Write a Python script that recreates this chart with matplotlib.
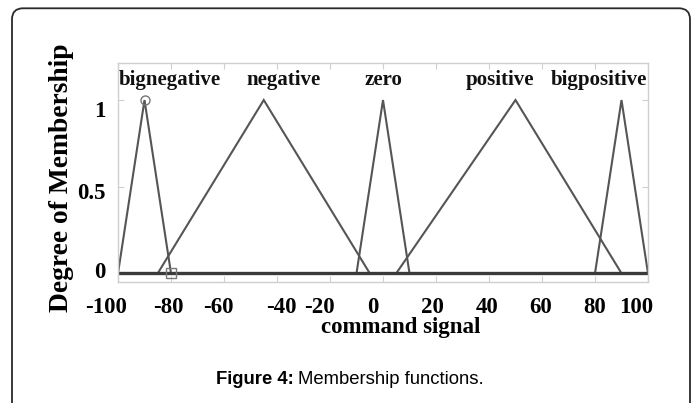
import numpy as np
import matplotlib
matplotlib.use("Agg")
import matplotlib.pyplot as plt
from matplotlib.patches import FancyBboxPatch
from matplotlib.transforms import ScaledTranslation

# ---------------- data ----------------
mf_names = ["bignegative", "negative", "zero", "positive", "bigpositive"]
mf_left = [-100, -85, -10, 5, 80]
mf_peak = [-90, -45, 0, 50, 90]
mf_right = [-80, -5, 10, 90, 100]
label_x = [-80.5, -37.5, 0.2, 44, 81.5]   # where the MF names are written
label_y = 1.115
x_range = [-100, 100]
xticks = [-100, -80, -60, -40, -20, 0, 20, 40, 60, 80, 100]
xtick_labels = ["-100", "-80", "-60", "-40", "-20", "0", "20", "40", "60", "80", "100"]
yticks = [0, 0.5, 1]
ytick_labels = ["0", "0.5", "1"]
circle_pt = (-90, 1)
square_pt = (-80, 0)

# label nudges of the scanned original (pixels, style only)
xtick_nudge_px = [-11.5, -2.5, -5.5, 4, -11, -10, -3.5, -2.3, -1.2, 0, -12]
ytick_nudge_px = [3, -4, -9]

W, H, DPI = 6.97, 4.03, 100
fig = plt.figure(figsize=(W, H), dpi=DPI)
fig.patch.set_facecolor("white")

# outer rounded frame
box = FancyBboxPatch((0.12, -0.3), 6.78, 3.947 + 0.3,
                     boxstyle="round,pad=0,rounding_size=0.11",
                     transform=fig.dpi_scale_trans, fill=False,
                     edgecolor="#2a2a2a", linewidth=1.3)
fig.patches.append(box)

ax = fig.add_axes([118 / 697, 1 - 281.7 / 403, 530 / 697, 218.4 / 403])
ax.set_xlim(x_range)
ax.set_ylim(-0.0485, 1.212)

for a, b, c in zip(mf_left, mf_peak, mf_right):
    xs = [x_range[0], a, b, c, x_range[1]]
    ys = [0, 0, 1, 0, 0]
    ax.plot(xs, ys, color="#555555", lw=1.5, solid_joinstyle="miter")
# darker, thicker overlap of all the zero segments
ax.plot(x_range, [0, 0], color="#3a3a3a", lw=2.4, solid_capstyle="butt")

ax.plot([circle_pt[0]], [circle_pt[1]], marker="o", ms=6.5, mfc="none",
        mec="#777777", mew=1.0)
ax.plot([square_pt[0]], [square_pt[1]], marker="s", ms=6.5, mfc="none",
        mec="#777777", mew=1.0)

serif = "Liberation Serif"
for name, lx in zip(mf_names, label_x):
    ax.text(lx, label_y, name, ha="center", va="center", fontsize=15,
            fontweight="bold", family=serif, color="#111111")

for sp in ax.spines.values():
    sp.set_color("#cfcfcf")
    sp.set_linewidth(1.0)

ax.set_xticks(xticks)
ax.set_xticklabels(xtick_labels)
ax.set_yticks(yticks)
ax.set_yticklabels(ytick_labels)
ax.tick_params(axis="both", direction="in", length=4, color="#cfcfcf",
               top=True, right=True, labelsize=16.5)
ax.tick_params(axis="x", pad=11)
ax.tick_params(axis="y", pad=9)

for lab, dx in zip(ax.get_xticklabels(), xtick_nudge_px):
    lab.set_fontfamily(serif)
    lab.set_fontweight("bold")
    lab.set_transform(lab.get_transform() + ScaledTranslation(dx / DPI, 0, fig.dpi_scale_trans))
for lab, dy in zip(ax.get_yticklabels(), ytick_nudge_px):
    lab.set_fontfamily(serif)
    lab.set_fontweight("bold")
    lab.set_transform(lab.get_transform() + ScaledTranslation(0, dy / DPI, fig.dpi_scale_trans))

ax.set_xlabel("command signal", fontsize=16.5, fontweight="bold", family=serif,
              va="center")
ax.xaxis.set_label_coords((401 - 118) / 530, -(327 - 281.7) / 218.4)
ax.set_ylabel("Degree of Membership", fontsize=19.8, fontweight="bold",
              family=serif, va="center")
ax.yaxis.set_label_coords((62 - 118) / 530, (281.7 - 177.5) / 218.4)

# caption
cap_y = 1 - 379 / 403
t1 = fig.text(216 / 697, cap_y, "Figure 4:", fontsize=13.3, fontweight="bold",
              family="Liberation Sans", ha="left", va="center")
fig.canvas.draw()
bb = t1.get_window_extent()
fig.text((bb.x1 + 4) / (W * DPI), cap_y, "Membership functions.", fontsize=13.3,
         family="Liberation Sans", ha="left", va="center")

fig.savefig("out.png", dpi=DPI)
